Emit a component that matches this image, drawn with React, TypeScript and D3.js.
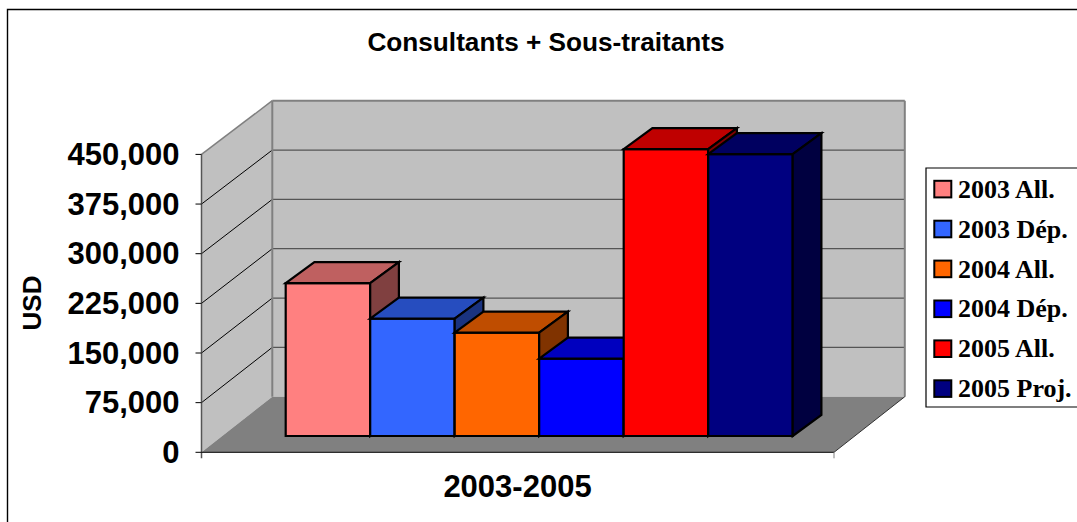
import React from "react";
import * as d3 from "d3";

const seriesNames = ["2003 All.", "2003 Dép.", "2004 All.", "2004 Dép.", "2005 All.", "2005 Proj."];
const seriesValues = [230800, 177300, 156100, 116900, 433400, 425800];
const seriesColors = ["#FF8080", "#3366FF", "#FF6600", "#0000FF", "#FF0000", "#000080"];
const tickValues = [0, 75000, 150000, 225000, 300000, 375000, 450000];

const y = d3.scaleLinear().domain([0, 450000]).range([452.3, 154.4]);
const wallY = d3.scaleLinear().domain([0, 450000]).range([396.7, 100.7]);
const x = d3.scaleBand<string>().domain(seriesNames).range([285.7, 792.7]);
const wallDx = 70.8;
const barDx = 28.7, barDy = -21, barLift = -16.3;
const plotLeft = 201.5, plotRight = 834;
const line = d3.line();
const poly = (pts: [number, number][]) => line(pts) + "Z";
const shade = (c: string, k: number) => {
  const r = d3.rgb(c);
  return d3.rgb(r.r * k, r.g * k, r.b * k).formatHex();
};
const legendY = d3.scalePoint<string>().domain(seriesNames).range([189, 388.5]);

export default function App() {
  const y0 = y(0), yT = y(450000);
  const w0 = wallY(0), wT = wallY(450000);
  const bl = plotLeft + wallDx, br = plotRight + wallDx;
  return (
    <svg width={1077} height={522} style={{ position: "absolute", left: 0, top: 0, background: "#fff" }}>
      <path d="M7.5,522V9.5H1077" fill="none" stroke="#000" strokeWidth={1.4} />
      <text x={546} y={51} textAnchor="middle" fontFamily="Liberation Sans" fontWeight="bold" fontSize={26.2}>Consultants + Sous-traitants</text>

      <path d={poly([[bl, wT], [br, wT], [br, w0], [bl, w0]])} fill="#C0C0C0" />
      <path d={poly([[plotLeft, yT], [bl, wT], [bl, w0], [plotLeft, y0]])} fill="#C0C0C0" />
      <path d={poly([[plotLeft, y0], [plotRight, y0], [br, w0], [bl, w0]])} fill="#808080" />

      {tickValues.slice(1, -1).map((t) => (
        <g key={t}>
          <line x1={bl} x2={br} y1={wallY(t)} y2={wallY(t)} stroke="#555" strokeWidth={1.2} />
          <line x1={plotLeft} x2={bl} y1={y(t)} y2={wallY(t)} stroke="#000" strokeWidth={1} />
        </g>
      ))}
      <line x1={bl} x2={br} y1={wT} y2={wT} stroke="#808080" strokeWidth={2} />
      <line x1={bl} x2={bl} y1={wT} y2={w0} stroke="#808080" strokeWidth={2} />
      <line x1={br} x2={br} y1={wT} y2={w0} stroke="#808080" strokeWidth={2} />
      <line x1={plotLeft} x2={bl} y1={yT} y2={wT} stroke="#808080" strokeWidth={1.5} />
      <line x1={plotRight} x2={br} y1={y0} y2={w0} stroke="#333" strokeWidth={1} />

      {seriesNames.map((name, i) => {
        const l = x(name)!, r = l + x.bandwidth();
        const b = y(0) + barLift, t = y(seriesValues[i]) + barLift;
        const c = seriesColors[i];
        return (
          <g key={name} stroke="#000" strokeWidth={2.2} strokeLinejoin="miter">
            <path d={poly([[l, t], [r, t], [r, b], [l, b]])} fill={c} />
            <path d={poly([[l, t], [l + barDx, t + barDy], [r + barDx, t + barDy], [r, t]])} fill={shade(c, 0.75)} />
            <path d={poly([[r, t], [r + barDx, t + barDy], [r + barDx, b + barDy], [r, b]])} fill={shade(c, 0.5)} />
          </g>
        );
      })}

      <line x1={plotLeft} x2={plotLeft} y1={yT} y2={y0 + 6} stroke="#555" strokeWidth={1.5} />
      <line x1={plotLeft} x2={plotRight} y1={y0} y2={y0} stroke="#000" strokeWidth={1} />
      <line x1={plotRight} x2={plotRight} y1={y0} y2={y0 + 6} stroke="#808080" strokeWidth={1} />
      {tickValues.map((t) => (
        <g key={t}>
          <line x1={plotLeft - 6} x2={plotLeft} y1={y(t)} y2={y(t)} stroke="#000" strokeWidth={1} />
          <text x={179.5} y={y(t) + 10.6} textAnchor="end" fontFamily="Liberation Sans" fontWeight="bold" fontSize={31}>{d3.format(",")(t)}</text>
        </g>
      ))}
      <text transform="translate(41,303) rotate(-90)" textAnchor="middle" fontFamily="Liberation Sans" fontWeight="bold" fontSize={26}>USD</text>
      <text x={517.5} y={496.7} textAnchor="middle" fontFamily="Liberation Sans" fontWeight="bold" fontSize={31}>2003-2005</text>

      <path d="M1077,168H926V407H1077" fill="#fff" stroke="#000" strokeWidth={1.2} />
      {seriesNames.map((name, i) => (
        <g key={name}>
          <rect x={934.3} y={legendY(name)! - 8.2} width={17} height={16.6} fill={seriesColors[i]} stroke="#000" strokeWidth={2} />
          <text x={958} y={legendY(name)! + 8.7} fontFamily="Liberation Serif" fontWeight="bold" fontSize={26}>{name}</text>
        </g>
      ))}
    </svg>
  );
}
